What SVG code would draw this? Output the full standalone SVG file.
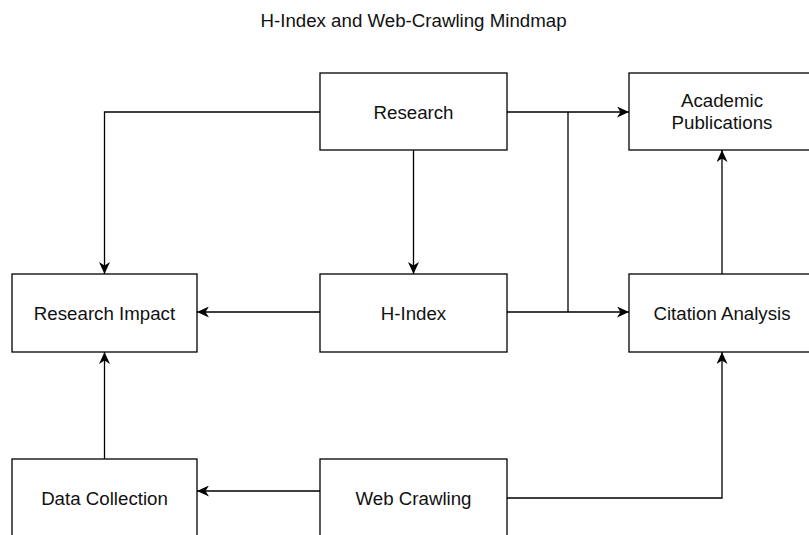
<svg xmlns="http://www.w3.org/2000/svg" width="809" height="535" viewBox="0 0 809 535">
<style>
  .box { fill: #ffffff; stroke: #000000; stroke-width: 1.3; }
  .lbl { font-family: "Liberation Sans", Arial, sans-serif; font-size: 18.7px; fill: #111111; text-anchor: middle; }
  .edge { fill: none; stroke: #000000; stroke-width: 1.3; marker-end: url(#arrow); }
  .link { fill: none; stroke: #000000; stroke-width: 1.3; }
  .title { font-family: "Liberation Sans", Arial, sans-serif; font-size: 18.7px; fill: #111111; text-anchor: middle; }
</style>
<defs>
  <marker id="arrow" viewBox="0 0 12 11" refX="12" refY="5.5" markerWidth="12" markerHeight="11" markerUnits="userSpaceOnUse" orient="auto">
    <path d="M0,0 L12,5.5 L0,11 L3.5,5.5 Z" fill="#000000"/>
  </marker>
</defs>
<rect width="809" height="535" fill="#ffffff"/>
<text class="title" x="413.5" y="26.5">H-Index and Web-Crawling Mindmap</text>

<g id="connectors">
  <path class="edge" d="M320,112 H104.5 V274"/>
  <path class="edge" d="M413.5,150 V274"/>
  <path class="edge" d="M320,312 H197"/>
  <path class="edge" d="M507,112 H629"/>
  <path class="edge" d="M507,312 H629"/>
  <path class="link" d="M568,112 V312"/>
  <path class="edge" d="M722,274 V150"/>
  <path class="edge" d="M104.5,459 V352"/>
  <path class="edge" d="M320,491 H197"/>
  <path class="edge" d="M507,498 H722 V352"/>
</g>

<g id="node-research">
  <rect class="box" x="320" y="73" width="187" height="77"/>
  <text class="lbl" x="413.5" y="118.5">Research</text>
</g>
<g id="node-academic-publications">
  <rect class="box" x="629" y="73" width="187" height="77"/>
  <text class="lbl" x="722" y="107">Academic</text>
  <text class="lbl" x="722" y="128.5">Publications</text>
</g>
<g id="node-research-impact">
  <rect class="box" x="12" y="274" width="185" height="78"/>
  <text class="lbl" x="104.5" y="319.5">Research Impact</text>
</g>
<g id="node-h-index">
  <rect class="box" x="320" y="274" width="187" height="78"/>
  <text class="lbl" x="413.5" y="319.5">H-Index</text>
</g>
<g id="node-citation-analysis">
  <rect class="box" x="629" y="274" width="187" height="78"/>
  <text class="lbl" x="722" y="319.5">Citation Analysis</text>
</g>
<g id="node-data-collection">
  <rect class="box" x="12" y="459" width="185" height="78"/>
  <text class="lbl" x="104.5" y="505">Data Collection</text>
</g>
<g id="node-web-crawling">
  <rect class="box" x="320" y="459" width="187" height="78"/>
  <text class="lbl" x="413.5" y="505">Web Crawling</text>
</g>
</svg>
